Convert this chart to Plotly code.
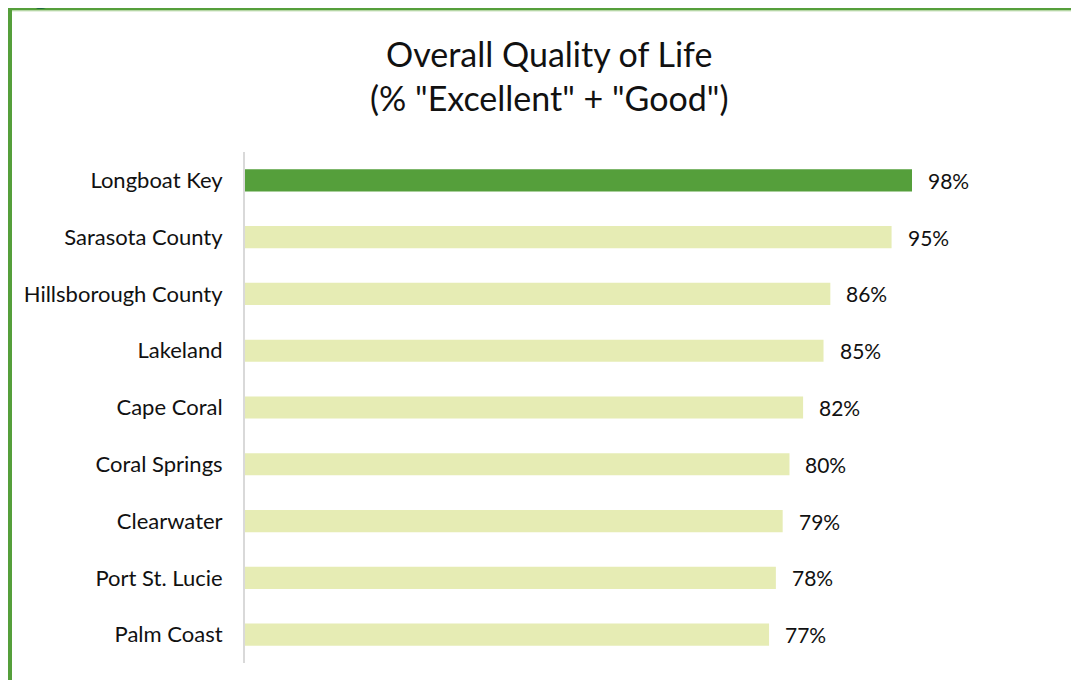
import plotly.graph_objects as go

# datos
places = ["Longboat Key", "Sarasota County", "Hillsborough County", "Lakeland",
          "Cape Coral", "Coral Springs", "Clearwater", "Port St. Lucie", "Palm Coast"]
pct = [98, 95, 86, 85, 82, 80, 79, 78, 77]
labels = [f"{v}%" for v in pct]
highlight = "Longboat Key"

# la pagina deja 8px de margen alrededor, asi que todo va desplazado 8px
OFF = 8
W, H = 1079 - 2 * OFF, 688 - 2 * OFF
L, T = 245 - OFF, 152 - OFF
R = W + OFF - 1062
B = H + OFF - 663
pw, ph = W - L - R, H - T - B

def px_x(p):
    return (p - OFF - L) / pw

def px_y(p):
    return (H - B - (p - OFF)) / ph

colors = ["#559f3b" if p == highlight else "#e6ecb4" for p in places]

fig = go.Figure(go.Bar(
    y=places, x=pct, orientation="h",
    marker=dict(color=colors, line=dict(width=0)),
    width=0.39, hoverinfo="skip"
))

for p, v, t in zip(places, pct, labels):
    fig.add_annotation(x=v, y=p, text=t, showarrow=False, xanchor="left",
                       xshift=14, font=dict(size=21, color="#111111"))

#titulo
fig.add_annotation(xref="paper", yref="paper", x=px_x(549), y=px_y(75),
                   text='Overall Quality of Life<br>(% "Excellent" + "Good")',
                   showarrow=False, xanchor="center", yanchor="middle",
                   font=dict(size=34, color="#111111"))

fig.add_annotation(xref="paper", yref="paper", x=px_x(5), y=px_y(11),
                   text="<b>Figure 21</b>", showarrow=False, xanchor="left",
                   yanchor="bottom", font=dict(size=30, color="#1e6b3c",
                                               family="Liberation Serif"))

# marco verde
fig.add_shape(type="line", xref="paper", yref="paper", x0=px_x(10), x1=px_x(10),
              y0=px_y(8), y1=px_y(700), line=dict(color="#559f3b", width=4))
fig.add_shape(type="line", xref="paper", yref="paper", x0=px_x(8), x1=px_x(1100),
              y0=px_y(9), y1=px_y(9), line=dict(color="#559f3b", width=2.5))
fig.add_shape(type="line", xref="paper", yref="paper", x0=px_x(12), x1=px_x(1100),
              y0=px_y(10.8), y1=px_y(10.8), line=dict(color="#a9cf94", width=1))

fig.update_xaxes(range=[0, pw / (667 / 98)], visible=False, fixedrange=True)
fig.update_yaxes(autorange="reversed", showline=True, linecolor="#d9d9d9", linewidth=2,
                 showgrid=False, ticks="", ticklabelstandoff=16,
                 tickfont=dict(size=22, color="#111111"))

fig.update_layout(
    width=W, height=H,
    margin=dict(l=L, r=R, t=T, b=B),
    plot_bgcolor="white",
    paper_bgcolor="white",
    font=dict(family="Lato, sans-serif"),
    showlegend=False,
    bargap=0.61
)

fig.write_html("out.html")
